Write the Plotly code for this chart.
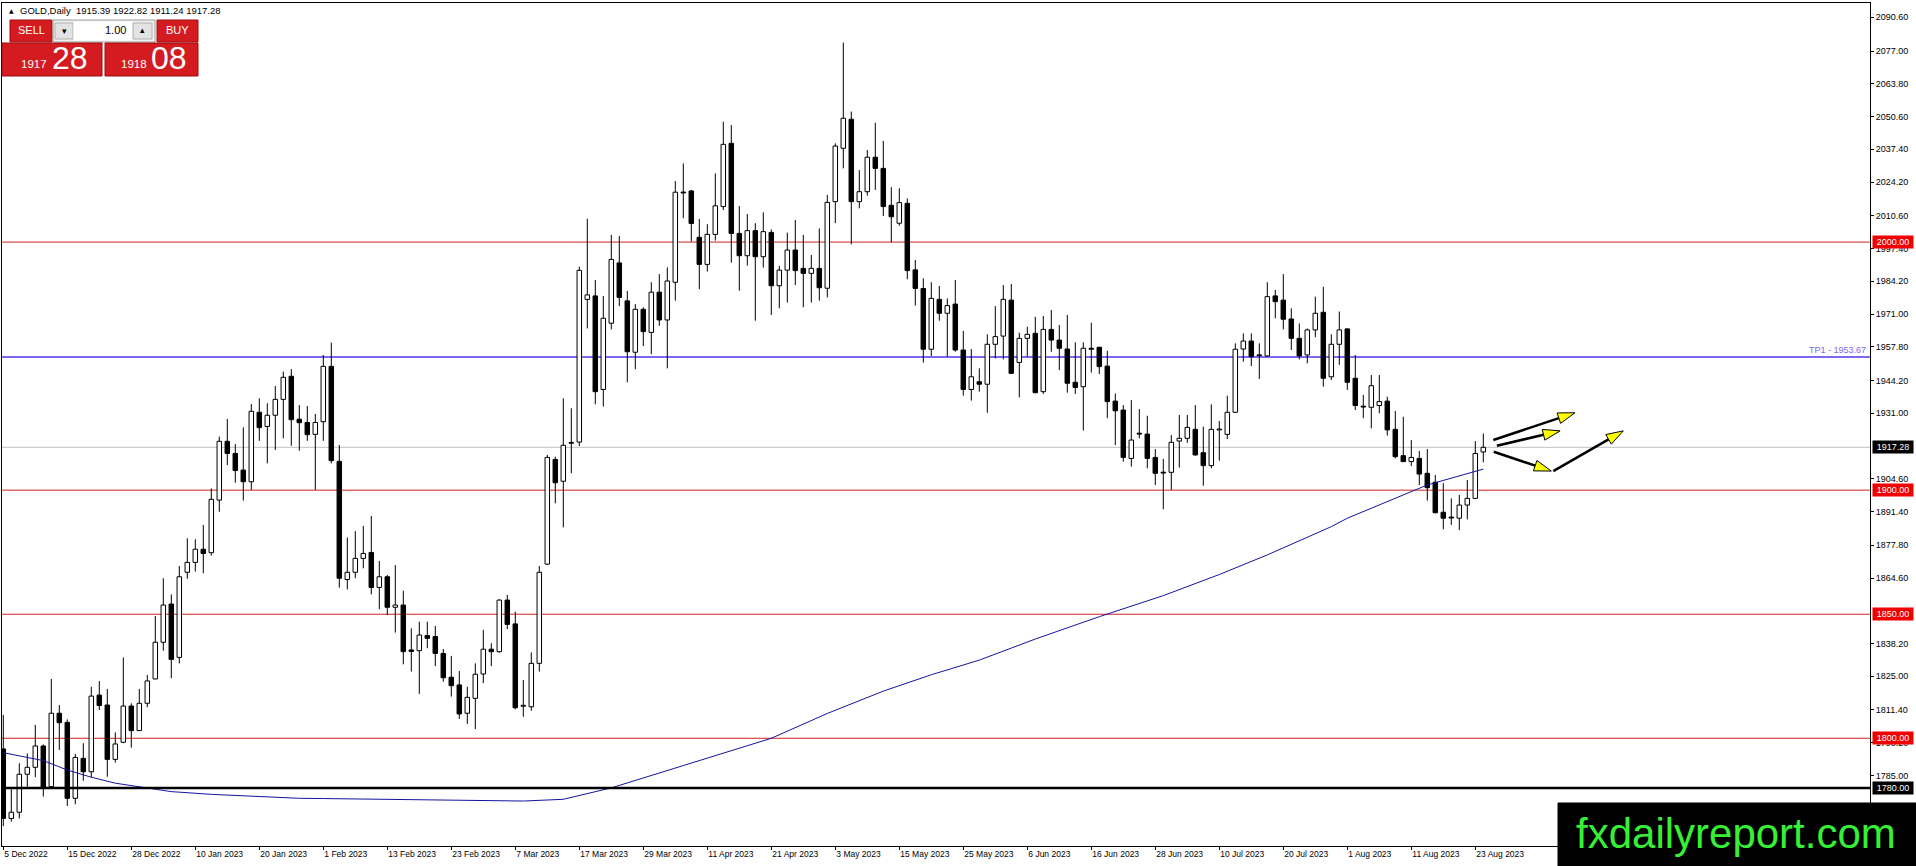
import math
import plotly.graph_objects as go

# ---------------- data ----------------
SYMBOL = "GOLD,Daily"
OPEN = [1795.7, 1767.7, 1770.2, 1785.5, 1788.3, 1796.9, 1780.5, 1810.1, 1806.4, 1775.8,
        1791.9, 1786.5, 1817.4, 1813.4, 1791.5, 1798.4, 1813.0, 1803.1, 1814.1, 1823.9,
        1838.7, 1854.1, 1832.6, 1866.9, 1870.9, 1876.2, 1874.8, 1896.0, 1919.7, 1914.8,
        1908.1, 1903.4, 1931.4, 1925.7, 1930.2, 1936.6, 1945.9, 1928.6, 1927.3, 1922.5,
        1927.6, 1949.9, 1911.6, 1864.0, 1866.9, 1872.5, 1874.9, 1860.8, 1865.1, 1852.8,
        1853.7, 1835.6, 1835.3, 1841.4, 1841.0, 1834.2, 1824.6, 1821.5, 1810.1, 1816.1,
        1825.9, 1835.9, 1834.9, 1855.7, 1846.1, 1812.9, 1812.7, 1830.2, 1870.2, 1912.4,
        1903.6, 1918.9, 1919.4, 1976.9, 1978.3, 1940.6, 1967.3, 1991.6, 1976.3, 1955.6,
        1972.9, 1963.6, 1979.8, 1968.6, 1983.8, 2020.1, 2020.6, 2001.9, 1991.0, 2003.1,
        2014.3, 2039.8, 2003.5, 1994.5, 2004.6, 1994.1, 2003.9, 1982.4, 1988.7, 1996.8,
        1989.4, 1987.4, 1989.4, 1981.4, 2016.3, 2037.8, 2049.5, 2016.3, 2020.3, 2034.2,
        2029.7, 2014.8, 2007.6, 2015.6, 1988.8, 1981.3, 1956.8, 1976.9, 1971.3, 1975.0,
        1956.5, 1940.6, 1943.7, 1942.7, 1958.8, 1962.1, 1976.6, 1951.5, 1961.2, 1963.2,
        1939.7, 1964.8, 1960.5, 1956.9, 1943.5, 1941.7, 1957.2, 1957.6, 1950.0, 1935.9,
        1932.3, 1912.8, 1922.9, 1922.6, 1913.2, 1907.2, 1907.2, 1919.8, 1920.9, 1924.5,
        1915.1, 1909.9, 1924.3, 1922.5, 1931.4, 1956.9, 1960.1, 1954.2, 1954.1, 1978.3,
        1976.6, 1969.0, 1961.2, 1954.5, 1964.6, 1971.7, 1945.7, 1958.8, 1965.0, 1945.1,
        1933.8, 1933.4, 1934.1, 1935.9, 1924.5, 1913.9, 1911.5, 1912.8, 1906.8, 1903.2,
        1891.1, 1889.0, 1888.7, 1894.0, 1896.7, 1915.39]
HIGH = [1809.4, 1779.8, 1789.9, 1793.9, 1805.4, 1797.5, 1823.9, 1813.4, 1807.6, 1793.7,
        1798.0, 1820.8, 1823.1, 1819.9, 1802.4, 1832.6, 1814.1, 1819.9, 1825.5, 1849.3,
        1864.5, 1858.0, 1869.4, 1880.6, 1880.2, 1886.0, 1900.7, 1921.6, 1928.7, 1918.6,
        1925.3, 1934.7, 1937.0, 1935.0, 1942.0, 1947.8, 1948.8, 1934.3, 1933.9, 1930.7,
        1954.5, 1959.5, 1918.2, 1880.9, 1883.5, 1885.6, 1889.6, 1871.5, 1865.8, 1869.8,
        1859.5, 1844.3, 1847.0, 1847.0, 1845.3, 1836.0, 1833.2, 1827.1, 1820.8, 1830.2,
        1843.7, 1838.3, 1856.0, 1857.8, 1851.0, 1823.5, 1834.6, 1869.4, 1914.2, 1913.5,
        1937.0, 1933.0, 1990.1, 2009.4, 1984.7, 1978.3, 2002.9, 2002.4, 1980.3, 1975.0,
        1973.7, 1983.8, 1987.1, 1989.8, 2024.6, 2031.7, 2021.0, 2009.3, 2007.2, 2027.7,
        2048.5, 2047.2, 2014.5, 2011.3, 2007.6, 2012.0, 2005.1, 1990.4, 2003.8, 2008.9,
        2002.9, 1994.8, 2005.5, 2019.0, 2039.8, 2080.4, 2052.6, 2029.0, 2037.1, 2048.1,
        2040.8, 2022.1, 2021.7, 2017.6, 1992.8, 1985.4, 1983.8, 1982.3, 1977.3, 1984.7,
        1964.2, 1956.9, 1949.1, 1962.8, 1974.2, 1982.7, 1983.1, 1963.5, 1965.9, 1969.9,
        1970.2, 1972.6, 1966.6, 1970.6, 1959.6, 1959.6, 1967.5, 1957.8, 1956.2, 1939.0,
        1934.3, 1936.3, 1932.7, 1930.0, 1916.6, 1912.6, 1922.2, 1930.3, 1930.3, 1934.3,
        1925.6, 1934.6, 1927.9, 1938.1, 1959.2, 1963.2, 1963.2, 1959.2, 1983.8, 1980.7,
        1987.1, 1973.3, 1967.2, 1965.2, 1978.0, 1982.0, 1962.8, 1972.0, 1965.2, 1954.5,
        1938.4, 1946.4, 1946.4, 1937.7, 1931.9, 1929.6, 1920.2, 1915.8, 1916.6, 1906.1,
        1902.8, 1896.7, 1898.1, 1904.1, 1919.8, 1922.82]
LOW = [1764.6, 1766.4, 1767.7, 1780.2, 1784.3, 1776.5, 1780.2, 1795.3, 1772.7, 1773.4,
       1782.9, 1784.3, 1811.4, 1784.5, 1790.2, 1798.0, 1796.2, 1803.0, 1812.5, 1823.8,
       1835.3, 1824.2, 1830.2, 1864.3, 1867.2, 1866.5, 1873.6, 1891.3, 1910.1, 1903.0,
       1895.8, 1900.1, 1919.9, 1910.8, 1916.2, 1920.9, 1917.9, 1915.9, 1919.9, 1900.1,
       1919.9, 1910.8, 1860.7, 1860.0, 1864.5, 1868.5, 1858.0, 1852.0, 1849.7, 1842.6,
       1829.8, 1826.9, 1817.9, 1836.3, 1829.1, 1822.8, 1816.8, 1807.8, 1805.8, 1803.7,
       1822.2, 1829.1, 1834.5, 1844.0, 1811.7, 1808.7, 1811.1, 1826.9, 1869.8, 1894.7,
       1885.0, 1906.8, 1917.8, 1965.2, 1934.6, 1933.7, 1964.8, 1974.2, 1943.5, 1948.7,
       1958.1, 1954.8, 1966.3, 1949.1, 1976.4, 2009.6, 2000.2, 1981.0, 1988.1, 2000.6,
       2012.9, 1991.7, 1980.4, 1990.5, 1968.3, 1989.7, 1970.6, 1973.3, 1975.6, 1982.7,
       1973.7, 1975.6, 1976.4, 1977.7, 2007.6, 2029.7, 1999.1, 2013.6, 2018.7, 2021.0,
       2010.5, 1999.9, 2006.6, 1985.0, 1974.4, 1951.4, 1954.1, 1968.3, 1953.8, 1955.8,
       1938.1, 1936.1, 1939.7, 1931.2, 1953.1, 1952.7, 1946.8, 1937.4, 1953.8, 1939.0,
       1938.8, 1955.8, 1948.4, 1939.3, 1938.8, 1924.0, 1947.4, 1946.8, 1929.0, 1918.2,
       1911.5, 1909.5, 1920.9, 1908.8, 1902.1, 1892.3, 1900.1, 1909.1, 1919.1, 1913.9,
       1901.8, 1908.8, 1911.9, 1920.6, 1931.2, 1951.8, 1950.0, 1944.8, 1953.8, 1969.3,
       1964.8, 1956.5, 1952.7, 1951.1, 1961.6, 1941.7, 1944.4, 1950.5, 1940.4, 1932.3,
       1929.0, 1924.9, 1931.0, 1922.0, 1912.8, 1911.4, 1909.7, 1902.1, 1895.8, 1890.7,
       1884.2, 1886.0, 1883.9, 1888.2, 1896.4, 1911.24]
CLOSE = [1767.7, 1770.2, 1785.5, 1788.3, 1796.9, 1780.2, 1810.1, 1806.3, 1775.8, 1792.3,
         1786.5, 1817.0, 1813.2, 1791.5, 1797.7, 1813.0, 1803.1, 1814.1, 1823.1, 1838.7,
         1853.7, 1831.8, 1865.1, 1870.9, 1876.2, 1874.5, 1896.3, 1919.7, 1914.8, 1907.9,
         1903.4, 1931.8, 1925.2, 1930.2, 1936.6, 1945.5, 1928.4, 1927.2, 1922.4, 1927.3,
         1949.9, 1911.9, 1864.5, 1866.9, 1872.5, 1874.5, 1860.8, 1865.1, 1852.8, 1853.7,
         1834.9, 1835.0, 1841.6, 1840.3, 1834.2, 1824.4, 1821.2, 1809.8, 1816.5, 1825.8,
         1835.9, 1834.9, 1855.7, 1845.9, 1812.3, 1813.3, 1830.2, 1866.9, 1913.2, 1903.0,
         1918.1, 1919.2, 1988.6, 1978.7, 1939.7, 1969.3, 1993.0, 1977.7, 1955.8, 1972.9,
         1963.9, 1979.8, 1968.6, 1984.3, 2020.1, 2019.8, 2007.5, 1991.0, 2003.1, 2014.6,
         2039.4, 2003.5, 1994.5, 2004.6, 1994.1, 2004.2, 1982.4, 1988.7, 1996.8, 1988.5,
         1987.4, 1989.4, 1981.6, 2016.0, 2038.7, 2049.9, 2016.3, 2020.3, 2034.2, 2029.7,
         2014.3, 2010.2, 2015.9, 1988.5, 1981.3, 1956.8, 1977.3, 1971.3, 1974.4, 1956.5,
         1940.6, 1945.7, 1942.7, 1958.8, 1961.9, 1976.9, 1947.1, 1961.2, 1962.8, 1939.3,
         1964.8, 1960.5, 1957.2, 1943.1, 1941.4, 1957.2, 1956.8, 1949.8, 1935.7, 1932.0,
         1913.2, 1920.2, 1922.6, 1912.8, 1906.8, 1906.9, 1919.3, 1920.9, 1925.3, 1914.2,
         1909.9, 1924.5, 1924.6, 1931.4, 1956.8, 1960.1, 1953.8, 1954.4, 1978.0, 1976.0,
         1968.9, 1961.2, 1954.1, 1964.6, 1971.3, 1945.1, 1958.8, 1964.6, 1943.5, 1934.1,
         1933.5, 1942.1, 1935.7, 1924.3, 1913.5, 1911.5, 1913.2, 1906.5, 1901.0, 1890.9,
         1888.7, 1888.8, 1894.0, 1896.7, 1914.8, 1917.28]

# moving average line, sampled at bar numbers
MA_BAR = [0, 5, 8, 11, 14, 18, 21, 26, 31, 37, 40, 48, 59, 65, 70, 76, 85, 96, 103,
          110, 116, 122, 129, 137, 145, 152, 158, 166, 168, 172, 178, 185]
MA_VALUE = [1794.2, 1791.0, 1787.2, 1784.3, 1781.9, 1779.8, 1778.5, 1777.4, 1776.7,
            1775.8, 1775.7, 1775.4, 1775.1, 1774.7, 1775.4, 1780.0, 1789.0, 1800.0,
            1810.0, 1819.0, 1825.6, 1831.5, 1840.0, 1849.0, 1857.5, 1866.0, 1873.9,
            1885.3, 1888.7, 1894.0, 1902.1, 1908.5]

DATE_LABELS = ["5 Dec 2022", "15 Dec 2022", "28 Dec 2022", "10 Jan 2023", "20 Jan 2023",
               "1 Feb 2023", "13 Feb 2023", "23 Feb 2023", "7 Mar 2023", "17 Mar 2023",
               "29 Mar 2023", "11 Apr 2023", "21 Apr 2023", "3 May 2023", "15 May 2023",
               "25 May 2023", "6 Jun 2023", "16 Jun 2023", "28 Jun 2023", "10 Jul 2023",
               "20 Jul 2023", "1 Aug 2023", "11 Aug 2023", "23 Aug 2023"]
BARS_PER_DATE_LABEL = 8

PRICE_TICKS = [2090.60, 2077.00, 2063.80, 2050.60, 2037.40, 2024.20, 2010.60, 1997.40,
               1984.20, 1971.00, 1957.80, 1944.20, 1931.00, 1904.60, 1891.40, 1877.80,
               1864.60, 1838.20, 1825.00, 1811.40, 1798.20, 1785.00]

RED_LEVELS = [2000.00, 1900.00, 1850.00, 1800.00]
SUPPORT_LEVEL = 1780.00
TP1_LEVEL = 1953.67
BID = 1917.28
ASK = 1918.08
LOT = "1.00"

# hand-drawn arrows: (start bar, start price) -> (end bar, end price)
ARROWS = [((186.25, 1920.2), (196.46, 1931.2)),
          ((186.7, 1917.9), (194.6, 1923.9)),
          ((186.3, 1915.5), (193.5, 1907.7)),
          ((193.75, 1907.7), (202.5, 1923.9))]

WATERMARK = "fxdailyreport.com"

# ---------------- layout geometry ----------------
W, H = 1916, 866
ML, MR, MT, MB = 2, 46, 3, 20
PW, PH = W - ML - MR, H - MT - MB
PX_PER_BAR = 8.0
X0 = -1.3 / PX_PER_BAR
X1 = X0 + PW / PX_PER_BAR
Y_TOP = 2096.36
Y_BOT = 1756.58
PX_PER_UNIT = PH / (Y_TOP - Y_BOT)

RED_LINE = "#d02020"
RED_BOX = "#f00000"
FONT = "Liberation Sans"


def px_x(px):
    return (px - ML) / PW


def px_y(py):
    return 1 - (py - MT) / PH


fig = go.Figure()

n = len(OPEN)
xs = list(range(n))

# wicks (split so they do not cross white bodies)
wx, wy = [], []
for i in xs:
    top = max(OPEN[i], CLOSE[i])
    bot = min(OPEN[i], CLOSE[i])
    wx += [i, i, None, i, i, None]
    wy += [HIGH[i], top, None, bot, LOW[i], None]

# moving average
fig.add_trace(go.Scatter(x=MA_BAR, y=MA_VALUE, mode="lines",
                         line=dict(color="#1414a0", width=1), hoverinfo="skip"))

# candle bodies
bases = [min(o, c) for o, c in zip(OPEN, CLOSE)]
heights = [max(abs(c - o), 0.35) for o, c in zip(OPEN, CLOSE)]
colors = ["white" if c >= o else "black" for o, c in zip(OPEN, CLOSE)]
fig.add_trace(go.Bar(x=xs, y=heights, base=bases, width=0.56,
                     marker=dict(color=colors, line=dict(color="black", width=1)),
                     hoverinfo="skip"))
fig.add_trace(go.Scatter(x=wx, y=wy, mode="lines",
                         line=dict(color="black", width=1), hoverinfo="skip"))

shapes = []
annotations = []

# horizontal levels
for lv in RED_LEVELS:
    shapes.append(dict(type="line", xref="paper", yref="y", x0=0, x1=1, y0=lv, y1=lv,
                       line=dict(color=RED_LINE, width=1), layer="below"))
shapes.append(dict(type="line", xref="paper", yref="y", x0=0, x1=1, y0=TP1_LEVEL, y1=TP1_LEVEL,
                   line=dict(color="#7b68ee", width=2), layer="below"))
shapes.append(dict(type="line", xref="paper", yref="y", x0=0, x1=1, y0=BID, y1=BID,
                   line=dict(color="#c0c0c0", width=1), layer="below"))
shapes.append(dict(type="line", xref="paper", yref="y", x0=0, x1=1, y0=SUPPORT_LEVEL,
                   y1=SUPPORT_LEVEL, line=dict(color="black", width=2.5), layer="above"))

annotations.append(dict(x=1, xref="paper", xanchor="right", xshift=-2, y=TP1_LEVEL, yref="y",
                        yanchor="bottom", yshift=0, text=f"TP1 - {TP1_LEVEL:.2f}",
                        showarrow=False, font=dict(family=FONT, size=9, color="#7b68ee")))

# price boxes on the right axis


def level_box(price, bg):
    annotations.append(dict(x=1, xref="paper", xanchor="left", xshift=2, y=price, yref="y",
                            yanchor="middle", text=f"{price:.2f}", showarrow=False,
                            bgcolor=bg, borderpad=1, width=38,
                            font=dict(family=FONT, size=9, color="white")))


for lv in RED_LEVELS:
    level_box(lv, RED_BOX)
level_box(BID, "black")
level_box(SUPPORT_LEVEL, "black")

# arrows (black shaft, yellow head)
HEAD_LEN, HEAD_HALF = 17.0, 5.5
for (xa, ya), (xb, yb) in ARROWS:
    dx = (xb - xa) * PX_PER_BAR
    dy = -(yb - ya) * PX_PER_UNIT
    L = math.hypot(dx, dy)
    ux, uy = dx / L, dy / L
    bx_px, by_px = -ux * HEAD_LEN, -uy * HEAD_LEN
    nx, ny = -uy * HEAD_HALF, ux * HEAD_HALF

    def to_data(ox, oy):
        return xb + ox / PX_PER_BAR, yb - oy / PX_PER_UNIT

    base = to_data(bx_px, by_px)
    p1 = to_data(bx_px + nx, by_px + ny)
    p2 = to_data(bx_px - nx, by_px - ny)
    shapes.append(dict(type="line", xref="x", yref="y", x0=xa, y0=ya, x1=base[0], y1=base[1],
                       line=dict(color="black", width=2.5), layer="above"))
    shapes.append(dict(type="path", xref="x", yref="y",
                       path=f"M {xb},{yb} L {p1[0]},{p1[1]} L {p2[0]},{p2[1]} Z",
                       fillcolor="#ffff00", line=dict(color="black", width=1), layer="above"))

# right axis line continues to the bottom of the window
shapes.append(dict(type="line", xref="paper", yref="paper", x0=1, x1=1, y0=0, y1=px_y(H),
                   line=dict(color="black", width=1)))

# header text
annotations.append(dict(x=px_x(7), xref="paper", xanchor="left", y=px_y(11), yref="paper",
                        yanchor="middle", text="▲", showarrow=False,
                        font=dict(family="DejaVu Sans", size=6, color="black")))
annotations.append(dict(x=px_x(18), xref="paper", xanchor="left", y=px_y(11), yref="paper",
                        yanchor="middle",
                        text=f"{SYMBOL}  {OPEN[-1]:.2f} {HIGH[-1]:.2f} {LOW[-1]:.2f} {CLOSE[-1]:.2f}",
                        showarrow=False, font=dict(family=FONT, size=9.5, color="black")))


# one-click trading panel
def rect(x0, y0, x1, y1, fill, line="rgba(0,0,0,0)", lw=1):
    shapes.append(dict(type="rect", xref="paper", yref="paper", x0=px_x(x0), x1=px_x(x1),
                       y0=px_y(y0), y1=px_y(y1), fillcolor=fill,
                       line=dict(color=line, width=lw), layer="above"))


def text(x, y, s, size, color, anchor="center", family=FONT):
    annotations.append(dict(x=px_x(x), xref="paper", xanchor=anchor, y=px_y(y), yref="paper",
                            yanchor="middle", text=s, showarrow=False,
                            font=dict(family=family, size=size, color=color)))


PANEL_RED = "#d41b1f"
PANEL_EDGE = "#9e0d10"
rect(10, 20, 52, 42, PANEL_RED, PANEL_EDGE)
rect(53, 20, 155, 42, "#f2f2f2", "#9a9a9a")
rect(55, 23, 73, 39, "#e3e3e3", "#b0b0b0")
rect(74, 22, 132, 40, "white", "white")
rect(133, 23, 152, 39, "#e3e3e3", "#b0b0b0")
rect(157, 20, 198, 42, PANEL_RED, PANEL_EDGE)
rect(2, 43, 102, 76, PANEL_RED, PANEL_EDGE)
rect(105, 43, 198, 76, PANEL_RED, PANEL_EDGE)
text(31, 30, "SELL", 11, "white")
text(177, 30, "BUY", 11, "white")
text(64, 31, "▾", 9, "black", family="DejaVu Sans")
text(142.5, 30, "▴", 9, "black", family="DejaVu Sans")
text(128, 30, LOT, 11, "black", anchor="right")
bid_s = f"{BID:.2f}"
ask_s = f"{ASK:.2f}"
text(34, 64, bid_s.split(".")[0], 11.5, "white")
text(70, 58, bid_s.split(".")[1], 32, "white")
text(134, 64, ask_s.split(".")[0], 11.5, "white")
text(168.5, 58, ask_s.split(".")[1], 32, "white")

# watermark
rect(1558, 803, 1917, 867, "black", "black")
text(1736, 833, WATERMARK, 42, "#36f036")

fig.update_layout(
    width=W, height=H,
    margin=dict(l=ML, r=MR, t=MT, b=MB, pad=0),
    paper_bgcolor="white", plot_bgcolor="white",
    showlegend=False, hovermode=False,
    font=dict(family=FONT, size=9, color="black"),
    shapes=shapes, annotations=annotations,
    xaxis=dict(range=[X0, X1], showgrid=False, zeroline=False, showline=True, mirror=True,
               linecolor="black", linewidth=1,
               tickvals=[i * BARS_PER_DATE_LABEL for i in range(len(DATE_LABELS))],
               ticktext=DATE_LABELS, ticks="outside", ticklen=3, tickcolor="black",
               ticklabelposition="outside right", tickfont=dict(family=FONT, size=8.5)),
    yaxis=dict(range=[Y_BOT, Y_TOP], side="right", showgrid=False, zeroline=False,
               showline=True, mirror=True, linecolor="black", linewidth=1,
               tickvals=PRICE_TICKS, ticktext=[f"{v:.2f}" for v in PRICE_TICKS],
               ticks="outside", ticklen=3, tickcolor="black",
               tickfont=dict(family=FONT, size=9)),
)

fig.write_html("out.html", config={"displayModeBar": False},
               post_script="document.body.style.margin='0';document.body.style.overflow='hidden';")
